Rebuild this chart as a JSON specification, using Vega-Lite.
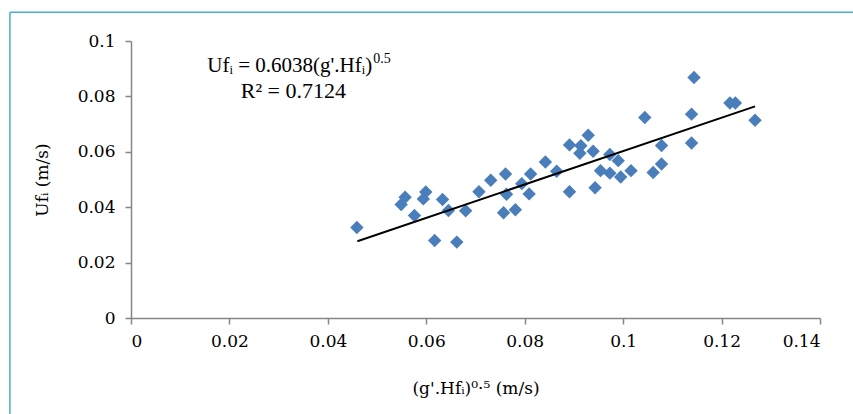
{
  "$schema": "https://vega.github.io/schema/vega-lite/v6.json",
  "width": 689,
  "height": 277,
  "autosize": {"type": "none"},
  "padding": {"left": 131, "top": 41, "right": 33, "bottom": 96},
  "background": "white",
  "config": {
    "view": {"stroke": null},
    "font": "serif",
    "axis": {
      "grid": false,
      "domainColor": "#868686",
      "domainWidth": 1.5,
      "tickColor": "#868686",
      "tickWidth": 1.5,
      "tickSize": 6,
      "labelColor": "#000000",
      "titleFontWeight": "normal",
      "titleColor": "#000000",
      "format": "~g"
    }
  },
  "datasets": {
    "points": [
      {"x": 0.0459, "y": 0.0327}, {"x": 0.0549, "y": 0.0410}, {"x": 0.0557, "y": 0.0436},
      {"x": 0.0576, "y": 0.0370}, {"x": 0.0594, "y": 0.0430}, {"x": 0.0599, "y": 0.0455},
      {"x": 0.0617, "y": 0.0280}, {"x": 0.0633, "y": 0.0428}, {"x": 0.0645, "y": 0.0388},
      {"x": 0.0662, "y": 0.0274}, {"x": 0.0680, "y": 0.0387}, {"x": 0.0707, "y": 0.0456},
      {"x": 0.0731, "y": 0.0497}, {"x": 0.0761, "y": 0.0520}, {"x": 0.0763, "y": 0.0447},
      {"x": 0.0757, "y": 0.0380}, {"x": 0.0781, "y": 0.0391}, {"x": 0.0794, "y": 0.0485},
      {"x": 0.0812, "y": 0.0520}, {"x": 0.0809, "y": 0.0448}, {"x": 0.0842, "y": 0.0563},
      {"x": 0.0865, "y": 0.0530}, {"x": 0.0891, "y": 0.0625}, {"x": 0.0891, "y": 0.0456},
      {"x": 0.0914, "y": 0.0622}, {"x": 0.0929, "y": 0.0660}, {"x": 0.0912, "y": 0.0595},
      {"x": 0.0939, "y": 0.0602}, {"x": 0.0943, "y": 0.0470}, {"x": 0.0973, "y": 0.0590},
      {"x": 0.0990, "y": 0.0568}, {"x": 0.0954, "y": 0.0532}, {"x": 0.0973, "y": 0.0523},
      {"x": 0.0995, "y": 0.0509}, {"x": 0.1016, "y": 0.0532}, {"x": 0.1044, "y": 0.0724},
      {"x": 0.1078, "y": 0.0623}, {"x": 0.1078, "y": 0.0556}, {"x": 0.1061, "y": 0.0525},
      {"x": 0.1139, "y": 0.0736}, {"x": 0.1144, "y": 0.0868}, {"x": 0.1139, "y": 0.0632},
      {"x": 0.1217, "y": 0.0776}, {"x": 0.1228, "y": 0.0776}, {"x": 0.1268, "y": 0.0714}
    ],
    "trend": [
      {"x": 0.0460, "y": 0.0277},
      {"x": 0.1268, "y": 0.0764}
    ],
    "one": [{}]
  },
  "layer": [
    {
      "data": {"name": "one"},
      "mark": {"type": "rule", "color": "#4BACC6", "strokeWidth": 1.5, "clip": false},
      "encoding": {
        "x": {"datum": -0.0246, "type": "quantitative"},
        "y": {"datum": -0.5, "type": "quantitative"},
        "y2": {"datum": 0.1104}
      }
    },
    {
      "data": {"name": "one"},
      "mark": {"type": "rule", "color": "#4BACC6", "strokeWidth": 1.5, "clip": false},
      "encoding": {
        "y": {"datum": 0.1104, "type": "quantitative"},
        "x": {"datum": -0.0246, "type": "quantitative"},
        "x2": {"datum": 0.5}
      }
    },
    {
      "data": {"name": "points"},
      "mark": {"type": "point", "shape": "diamond", "filled": true, "size": 180, "color": "#4A7EBB", "opacity": 1},
      "encoding": {
        "x": {
          "field": "x", "type": "quantitative",
          "scale": {"domain": [0, 0.14], "nice": false, "zero": false},
          "axis": {
            "values": [0, 0.02, 0.04, 0.06, 0.08, 0.1, 0.12, 0.14],
            "labelFont": "DejaVu Serif",
            "titleFont": "DejaVu Serif",
            "labelFontSize": 17,
            "titleFontSize": 17,
            "labelPadding": 9,
            "title": "(g'.Hfᵢ)⁰·⁵ (m/s)",
            "titlePadding": 31
          }
        },
        "y": {
          "field": "y", "type": "quantitative",
          "scale": {"domain": [0, 0.1], "nice": false, "zero": false},
          "axis": {
            "values": [0, 0.02, 0.04, 0.06, 0.08, 0.1],
            "labelFont": "DejaVu Serif",
            "titleFont": "DejaVu Serif",
            "labelFontSize": 17,
            "titleFontSize": 17,
            "labelPadding": 10,
            "title": "Ufᵢ (m/s)",
            "titlePadding": 26
          }
        }
      }
    },
    {
      "data": {"name": "trend"},
      "mark": {"type": "line", "color": "#000000", "strokeWidth": 2},
      "encoding": {
        "x": {"field": "x", "type": "quantitative"},
        "y": {"field": "y", "type": "quantitative"}
      }
    },
    {
      "data": {"name": "one"},
      "mark": {"type": "text", "align": "right", "baseline": "alphabetic", "fontSize": 21, "color": "#000000", "font": "serif"},
      "encoding": {
        "x": {"datum": 0.0490, "type": "quantitative"},
        "y": {"datum": 0.0888, "type": "quantitative"},
        "text": {"value": "Ufᵢ = 0.6038(g'.Hfᵢ)"}
      }
    },
    {
      "data": {"name": "one"},
      "mark": {"type": "text", "align": "left", "baseline": "alphabetic", "fontSize": 14, "dy": -9, "dx": 1, "color": "#000000", "font": "serif"},
      "encoding": {
        "x": {"datum": 0.0490, "type": "quantitative"},
        "y": {"datum": 0.0888, "type": "quantitative"},
        "text": {"value": "0.5"}
      }
    },
    {
      "data": {"name": "one"},
      "mark": {"type": "text", "align": "center", "baseline": "alphabetic", "fontSize": 22, "color": "#000000", "font": "serif"},
      "encoding": {
        "x": {"datum": 0.0330, "type": "quantitative"},
        "y": {"datum": 0.0795, "type": "quantitative"},
        "text": {"value": "R² = 0.7124"}
      }
    }
  ]
}
